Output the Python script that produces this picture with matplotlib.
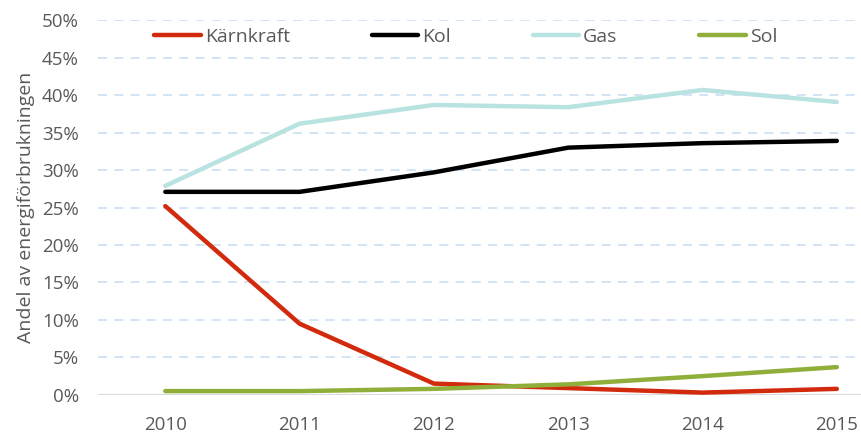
import matplotlib.pyplot as plt
from matplotlib.ticker import PercentFormatter

plt.rcParams['font.family'] = ['Open Sans', 'DejaVu Sans']

years = [2010, 2011, 2012, 2013, 2014, 2015]
karnkraft = [25.2, 9.5, 1.5, 0.9, 0.3, 0.8]
kol = [27.1, 27.1, 29.7, 33.0, 33.6, 33.9]
gas = [27.9, 36.2, 38.7, 38.4, 40.7, 39.1]
sol = [0.5, 0.5, 0.8, 1.4, 2.5, 3.7]

series = [
    ("Kärnkraft", karnkraft, "#d22a0c"),
    ("Kol", kol, "#000000"),
    ("Gas", gas, "#b9e3e0"),
    ("Sol", sol, "#8fae3a"),
]

text_col = "#595959"

fig = plt.figure(figsize=(8.61, 4.32), dpi=100)
ax = fig.add_axes([0.114, 0.086, 0.886, 0.867])

for name, vals, col in series:
    ax.plot(years, vals, color=col, lw=3.2, label=name, solid_capstyle="round",
            zorder=3)

ax.set_ylim(0, 50)
ax.set_xlim(2009.5, 2015.18)
ax.set_yticks(range(0, 51, 5))
ax.set_xticks(years)
ax.yaxis.set_major_formatter(PercentFormatter(decimals=0))

# dashed light-blue grid, solid grey baseline
for y in range(5, 51, 5):
    ax.axhline(y, color="#cfe2f5", lw=1.3, ls=(0, (5, 4)), zorder=1)
ax.axhline(0, color="#d9d9d9", lw=1.5, zorder=2)

for s in ax.spines.values():
    s.set_visible(False)
ax.tick_params(length=0, labelsize=13.5, colors=text_col)
ax.tick_params(axis="x", pad=15)
ax.tick_params(axis="y", pad=14)

ax.set_ylabel("Andel av energiförbrukningen", fontsize=14, color=text_col,
              labelpad=5)

leg = ax.legend(ncol=4, loc="center", bbox_to_anchor=(0.482, 0.956),
                frameon=False, fontsize=14, handlelength=2.4,
                handletextpad=0.2, columnspacing=4.2, borderaxespad=0)
for t in leg.get_texts():
    t.set_color(text_col)

fig.savefig("out.png", dpi=100)
